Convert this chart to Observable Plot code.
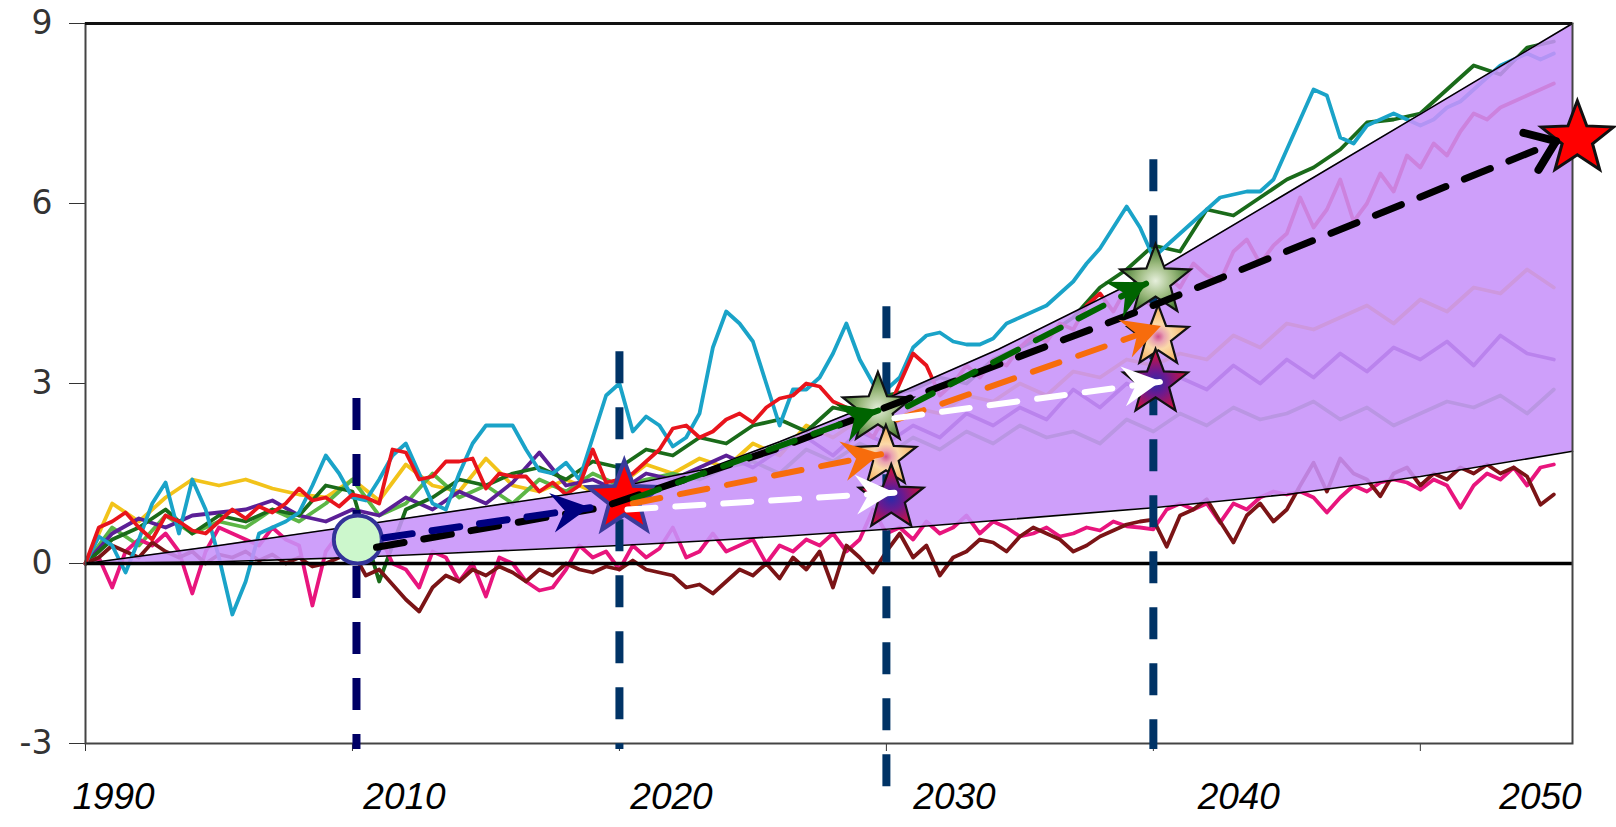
<!DOCTYPE html>
<html><head><meta charset="utf-8">
<script src="https://cdn.jsdelivr.net/npm/d3@7"></script>
<script src="https://cdn.jsdelivr.net/npm/@observablehq/plot@0.6"></script>
<style>html,body{margin:0;padding:0;background:#fff;} #chart svg{display:block;}</style>
</head><body><div id="chart"></div>
<script>
// ---------- data (time axis: 2000 = left edge, labelled "1990") ----------
const seriesStart = 2000;
// half-step series (every 0.5)
const cyan = [0.0,0.45,0.3,-0.15,0.4,1.0,1.35,0.5,1.4,0.9,
  0.1,-0.85,-0.3,0.5,0.6,0.7,0.85,1.3,1.8,1.5,
  1.1,1.05,1.4,1.8,2.0,1.5,1.0,0.9,1.5,2.0,
  2.3,2.3,2.3,1.9,1.55,1.5,1.68,1.4,2.1,2.8,
  3.0,2.2,2.45,2.3,1.95,2.1,2.5,3.6,4.2,4.0,
  3.7,3.0,2.3,2.9,2.9,3.1,3.5,4.0,3.4,3.0,
  2.9,3.1,3.6,3.8,3.85,3.7,3.65,3.65,3.75,4.0,
  4.1,4.2,4.3,4.5,4.7,5.0,5.25,5.6,5.95,5.6,
  5.1,5.3,5.5,5.7,5.9,6.1,6.15,6.2,6.2,6.4,
  6.9,7.4,7.9,7.8,7.1,7.0,7.3,7.4,7.5,7.4,
  7.3,7.4,7.6,7.7,7.9,8.1,8.3,8.4,8.5,8.4,8.5];
const red = [0.0,0.6,0.7,0.85,0.6,0.4,0.8,0.7,0.55,0.5,
  0.7,0.9,0.75,0.95,0.85,1.0,1.25,1.05,1.1,0.95,
  1.15,1.1,1.0,1.9,1.85,1.4,1.45,1.7,1.7,1.75,
  1.25,1.5,1.45,1.45,1.2,1.35,1.15,1.3,1.9,1.35,
  1.4,1.5,1.7,1.9,2.25,2.3,2.1,2.2,2.4,2.5,
  2.35,2.6,2.75,2.8,3.0,2.95,2.7,2.6,2.3,2.1,
  2.5,3.0,3.5,3.3,2.8,3.0,3.3,3.1,3.4,3.3,
  3.6,3.8,3.7,4.0,3.9,4.3,4.5,4.2,4.6,4.4,
  4.3,4.8,4.6,5.0,4.8,4.7,5.2,5.4,5.0,5.3,
  5.5,6.1,5.6,5.9,6.4,5.7,6.0,6.5,6.2,6.8,
  6.6,7.0,6.8,7.2,7.5,7.4,7.6,7.7,7.8,7.9,8.0];
const pink = [0.0,0.1,-0.4,0.2,0.4,0.3,0.5,0.2,-0.5,0.2,
  0.6,0.5,0.4,0.3,0.6,0.4,0.3,-0.7,0.2,0.5,
  0.3,0.1,0.5,0.0,-0.1,-0.4,0.2,0.1,-0.3,0.0,
  -0.55,0.1,0.0,-0.3,-0.45,-0.4,-0.1,0.3,0.1,0.2,
  -0.1,0.3,0.1,0.25,0.6,0.1,0.2,0.5,0.2,0.3,
  0.4,0.0,0.3,0.2,0.4,0.3,0.5,0.2,0.4,0.9,
  0.5,0.6,0.4,0.7,0.5,0.6,0.8,0.5,0.7,0.6,
  0.45,0.5,0.6,0.45,0.5,0.6,0.55,0.7,0.62,0.6,
  0.57,0.9,1.0,0.9,1.0,0.68,1.0,0.9,1.1,1.2,
  1.15,1.2,1.1,0.85,1.1,1.3,1.2,1.35,1.4,1.35,
  1.23,1.4,1.3,0.93,1.3,1.5,1.4,1.6,1.3,1.6,1.65];
const maroon = [0.0,0.1,0.3,0.2,0.1,0.35,0.2,0.1,0.2,0.0,
  0.15,0.1,0.2,0.05,0.15,0.0,0.1,-0.05,0.0,0.1,
  0.2,-0.2,-0.1,-0.35,-0.6,-0.8,-0.4,-0.2,-0.3,-0.1,
  -0.2,-0.05,-0.15,-0.3,-0.1,-0.2,0.0,-0.1,-0.15,-0.05,
  -0.1,0.05,-0.1,-0.15,-0.2,-0.4,-0.35,-0.5,-0.3,-0.1,
  -0.2,0.0,-0.25,0.1,-0.1,0.2,-0.4,0.3,0.1,-0.15,
  0.2,0.5,0.1,0.3,-0.2,0.1,0.2,0.4,0.35,0.2,
  0.45,0.6,0.5,0.4,0.2,0.3,0.45,0.55,0.65,0.7,
  0.73,0.28,0.8,0.9,1.07,0.7,0.35,0.8,1.0,0.7,
  0.9,1.3,1.68,1.2,1.75,1.5,1.4,1.12,1.5,1.6,
  1.3,1.5,1.4,1.6,1.5,1.65,1.5,1.6,1.45,0.98,1.15];
// whole-step series (every 1)
const yellow = [0.0,1.0,0.7,1.1,1.4,1.3,1.4,1.25,1.15,1.1,
  1.4,1.05,1.65,1.3,1.2,1.75,1.3,1.2,1.4,1.2,
  1.3,1.65,1.5,1.75,1.6,2.0,1.8,2.3,2.1,2.4,
  2.2,2.6,2.5,2.8,2.7,3.0,2.8,3.2,3.1,3.4,
  3.3,3.5,3.4,3.8,3.6,4.0,3.9,4.1,4.3,4.0,
  4.4,4.2,4.6,4.5,4.9,4.6];
const purple = [0,0.5,0.75,0.6,0.8,0.85,0.9,1.05,0.8,0.7,
  0.9,0.8,1.1,0.9,1.2,1.0,1.35,1.85,1.3,1.4,
  1.2,1.5,1.4,1.6,1.8,1.6,1.9,2.1,1.8,2.2,
  2.0,2.3,2.1,2.5,2.3,2.6,2.4,2.9,2.6,3.0,
  2.8,3.1,2.9,3.3,3.0,3.4,3.1,3.5,3.2,3.6,
  3.4,3.7,3.3,3.8,3.5,3.4];
const lime = [0,0.6,0.3,0.8,0.5,0.7,0.6,0.9,0.7,1.0,
  1.4,0.8,1.0,1.5,1.1,1.3,1.0,1.4,1.2,1.5,
  1.3,1.4,1.5,1.4,1.6,1.7,1.5,1.9,1.7,2.0,
  1.8,2.1,1.9,2.2,2.0,2.3,2.1,2.2,2.0,2.4,
  2.2,2.5,2.3,2.6,2.4,2.5,2.7,2.4,2.6,2.3,
  2.5,2.7,2.6,2.8,2.5,2.9];
const darkGreen = [0,0.4,0.6,0.9,0.5,0.8,0.7,0.9,0.8,1.3,
  1.2,-0.3,0.9,1.1,1.4,1.3,1.5,1.6,1.4,1.7,
  1.6,1.9,1.8,2.1,2.0,2.3,2.4,2.2,2.6,2.5,
  2.8,2.9,3.1,3.0,3.4,3.6,3.8,4.1,4.6,4.9,
  5.3,5.2,5.9,5.8,6.1,6.4,6.6,6.9,7.35,7.4,
  7.5,7.9,8.3,8.15,8.6,8.7];

// envelope band
const bandT    = [2000, 2005, 2010, 2015, 2020, 2023.3, 2026, 2030, 2034.2, 2040, 2045, 2050, 2055.7];
const bandLow  = [0, 0.03, 0.1, 0.2, 0.3, 0.38, 0.45, 0.57, 0.72, 0.93, 1.15, 1.45, 1.87];
const bandHigh = [0, 0.3, 0.62, 0.95, 1.28, 1.58, 2.03, 2.75, 3.57, 4.85, 6.17, 7.49, 9.0];

// axis
const yTicks = [-3, 0, 3, 6, 9];
const xTicks = [2000, 2010, 2020, 2030, 2040, 2050];
const xLabels = ["1990", "2010", "2020", "2030", "2040", "2050"];
const xLabelAt = [2001.05, 2011.95, 2021.95, 2032.55, 2043.2, 2054.5];

// vertical dashed guides
const guideT = [2010.15, 2020, 2030, 2040];
const guideTop = [2.75, 3.53, 4.28, 6.73];
const guideBottom = [-3.1, -3.1, -3.75, -3.1];

// start circle
const circleT = [2010.2];
const circleV = [0.4];

// stars
const starT = [2020.2, 2029.7, 2030.0, 2030.2, 2040.1, 2040.2, 2040.1, 2055.9];
const starV = [1.07, 2.57, 1.77, 1.08, 4.7, 3.77, 3.0, 7.07];
const starKind = ["red2020", "green", "peach", "plum", "green", "peach", "plum", "redEnd"];

// arrows (paths ending at the arrow tip)
const blackPathT = [2010.9, 2019.3, 2026.0, 2039.6, 2055.1];
const blackPathV = [0.27, 0.93, 1.93, 4.23, 7.03];
const navyArrowT = [2011.2, 2018.9];   const navyArrowV = [0.43, 0.93];
const greenAT = [2020.5, 2029.7];      const greenAV = [1.08, 2.55];
const greenBT = [2030.8, 2039.8];      const greenBV = [2.62, 4.68];
const orangeAT = [2020.5, 2029.8];     const orangeAV = [1.0, 1.82];
const orangeBT = [2030.4, 2040.3];     const orangeBV = [2.4, 3.95];
const whiteAT = [2020.3, 2030.3];      const whiteAV = [0.9, 1.18];
const whiteBT = [2030.3, 2040.3];      const whiteBV = [2.42, 3.03];

// ---------- styles ----------
const seriesList = [
  {values: yellow, step: 1, color: "#f2c31a"},
  {values: lime, step: 1, color: "#5cb646"},
  {values: purple, step: 1, color: "#5b1f96"},
  {values: darkGreen, step: 1, color: "#1a6b1a"},
  {values: pink, step: 0.5, color: "#e8157d"},
  {values: maroon, step: 0.5, color: "#7b1416"},
  {values: cyan, step: 0.5, color: "#1aa3c8"},
  {values: red, step: 0.5, color: "#e8141c"}
];
const starStyles = {
  red2020: {fill: "#ff0000", stroke: "#3b3b9b", width: 4, R: 38},
  green:   {fill: "url(#gGreen)", stroke: "#111", width: 2.2, R: 37},
  peach:   {fill: "url(#gPeach)", stroke: "#111", width: 2.2, R: 32},
  plum:    {fill: "url(#gPlum)", stroke: "#111", width: 2.2, R: 34},
  redEnd:  {fill: "#ff0000", stroke: "#111", width: 3, R: 38}
};
const gradients = {
  gGreen: [["0%", "#e6efdc"], ["45%", "#9dbb80"], ["100%", "#2f6a1c"]],
  gPeach: [["0%", "#cf4f8f"], ["18%", "#e9a2b2"], ["40%", "#fbd9a8"], ["100%", "#f4ac52"]],
  gPlum:  [["0%", "#2a2aa8"], ["35%", "#6a1a90"], ["100%", "#e4102a"]]
};
const arrows = [
  {T: blackPathT, V: blackPathV, color: "#000000", head: "open", w: 7},
  {T: greenAT, V: greenAV, color: "#006400", head: "filled", w: 6},
  {T: greenBT, V: greenBV, color: "#006400", head: "filled", w: 6},
  {T: orangeAT, V: orangeAV, color: "#f76c0c", head: "filled", w: 6},
  {T: orangeBT, V: orangeBV, color: "#f76c0c", head: "filled", w: 6},
  {T: whiteAT, V: whiteAV, color: "#ffffff", head: "filled", w: 6},
  {T: whiteBT, V: whiteBV, color: "#ffffff", head: "filled", w: 6},
  {T: navyArrowT, V: navyArrowV, color: "#000080", head: "filled", w: 7}
];

// ---------- helpers ----------
const NS = "http://www.w3.org/2000/svg";
function el(doc, name, attrs) {
  const e = doc.createElementNS(NS, name);
  for (const k in attrs) e.setAttribute(k, attrs[k]);
  return e;
}
function starPath(cx, cy, R, ratio) {
  let d = "";
  for (let k = 0; k < 10; k++) {
    const r = k % 2 ? R * ratio : R;
    const a = -Math.PI / 2 + k * Math.PI / 5;
    d += (k ? "L" : "M") + (cx + r * Math.cos(a)).toFixed(2) + "," + (cy + r * Math.sin(a)).toFixed(2);
  }
  return d + "Z";
}
function scaleFns(scales) {
  const X = typeof scales.x === "function" ? scales.x : (v) => scales.scales.x.apply(v);
  const Y = typeof scales.y === "function" ? scales.y : (v) => scales.scales.y.apply(v);
  return [X, Y];
}
function starsLayer(index, scales, values, dimensions, context) {
  const doc = (context && context.document) || document;
  const [X, Y] = scaleFns(scales);
  const g = el(doc, "g", {});
  const defs = el(doc, "defs", {});
  for (const id in gradients) {
    const rg = el(doc, "radialGradient", {id, cx: "50%", cy: "55%", r: "55%"});
    for (const [o, c] of gradients[id]) rg.appendChild(el(doc, "stop", {offset: o, "stop-color": c}));
    defs.appendChild(rg);
  }
  g.appendChild(defs);
  starT.forEach((t, i) => {
    const st = starStyles[starKind[i]];
    g.appendChild(el(doc, "path", {
      d: starPath(X(t), Y(starV[i]), st.R, 0.42),
      fill: st.fill, stroke: st.stroke, "stroke-width": st.width, "stroke-linejoin": "miter"
    }));
  });
  return g;
}
function headsLayer(index, scales, values, dimensions, context) {
  const doc = (context && context.document) || document;
  const [X, Y] = scaleFns(scales);
  const g = el(doc, "g", {});
  for (const a of arrows) {
    const n = a.T.length;
    const x1 = X(a.T[n - 2]), y1 = Y(a.V[n - 2]);
    const x2 = X(a.T[n - 1]), y2 = Y(a.V[n - 1]);
    const ang = Math.atan2(y2 - y1, x2 - x1) * 180 / Math.PI;
    const tr = `translate(${x2.toFixed(2)},${y2.toFixed(2)}) rotate(${ang.toFixed(2)})`;
    if (a.head === "open") {
      g.appendChild(el(doc, "path", {d: "M-27,-20L0,0L-27,20", transform: tr, fill: "none",
        stroke: a.color, "stroke-width": 8, "stroke-linecap": "round", "stroke-linejoin": "round"}));
    } else {
      g.appendChild(el(doc, "path", {d: "M0,0L-38,-20L-25,0L-38,20Z", transform: tr, fill: a.color}));
    }
  }
  return g;
}

// ---------- marks ----------
const marks = [];
for (const s of seriesList) {
  const rows = s.values.map((v, i) => ({t: seriesStart + i * s.step, v}));
  marks.push(Plot.line(rows, {x: "t", y: "v", stroke: s.color, strokeWidth: 3.8, strokeLinejoin: "round"}));
}
const band = bandT.map((t, i) => ({t, lo: bandLow[i], hi: bandHigh[i]}));
marks.push(Plot.areaY(band, {x: "t", y1: "lo", y2: "hi", fill: "#c792f9", fillOpacity: 0.88}));
marks.push(Plot.line(band, {x: "t", y: "lo", stroke: "#000", strokeWidth: 1.6}));
marks.push(Plot.line(band, {x: "t", y: "hi", stroke: "#000", strokeWidth: 1.6}));
marks.push(Plot.ruleY([0], {stroke: "#000", strokeWidth: 3.5}));
marks.push(Plot.frame({stroke: "#444", strokeWidth: 2}));
marks.push(Plot.ruleY([9], {stroke: "#111", strokeWidth: 3}));
marks.push(Plot.text(xLabels, {x: (d, i) => xLabelAt[i], frameAnchor: "bottom", dy: 65, text: (d) => d,
  fontSize: 37, fontStyle: "italic", fontFamily: "Liberation Sans, Arial, sans-serif", fill: "#000"}));
marks.push(Plot.ruleX([0], {x: (i) => guideT[i], y1: (i) => guideTop[i], y2: (i) => guideBottom[i],
  stroke: "#000066", strokeWidth: 8, strokeDasharray: "32,24"}));
marks.push(Plot.ruleX([1, 2, 3], {x: (i) => guideT[i], y1: (i) => guideTop[i], y2: (i) => guideBottom[i],
  stroke: "#003366", strokeWidth: 8, strokeDasharray: "32,24"}));
marks.push(Plot.dot([0], {x: (i) => circleT[i], y: (i) => circleV[i], r: 24, fill: "#ccf7cc", stroke: "#333399", strokeWidth: 4}));
marks.push(starsLayer);
for (const a of arrows) {
  const rows = a.T.map((t, i) => ({t, v: a.V[i]}));
  marks.push(Plot.line(rows, {x: "t", y: "v", stroke: a.color, strokeWidth: a.w, strokeDasharray: "28,20"}));
}
marks.push(headsLayer);

const chart = Plot.plot({
  width: 1616, height: 827,
  marginLeft: 85, marginRight: 44, marginTop: 23, marginBottom: 84,
  x: {domain: [2000, 2055.7], ticks: xTicks, tickSize: 8, tickFormat: () => "", label: null},
  y: {domain: [-3, 9], ticks: yTicks, tickSize: 16, tickPadding: 17, tickFormat: (d) => String(d), label: null},
  style: {background: "#fff", color: "#333", fontFamily: "DejaVu Sans, sans-serif", fontSize: "33px", overflow: "visible"},
  marks
});
document.getElementById("chart").appendChild(chart);
</script></body></html>
